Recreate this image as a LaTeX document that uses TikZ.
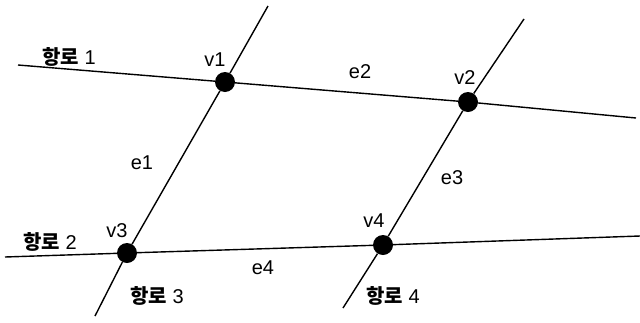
\documentclass[tikz,border=0pt]{standalone}
\usepackage{fontspec}
\setmainfont{Liberation Sans}
\newfontfamily\kr{Noto Sans CJK KR}
\usepackage{tikz}
\usetikzlibrary{positioning, calc}

\begin{document}
\begin{tikzpicture}[
          x=1pt, y=-1pt,
          route/.style={line width=1.4pt, black},
          vertex/.style={circle, fill=black, minimum size=20pt, inner sep=0pt},
          lbl/.style={font=\fontsize{20}{24}\selectfont, inner sep=1pt}
        ]
          \useasboundingbox (0,0) rectangle (640,322);

          % intersections
          \node[vertex] (v1) at (225,82) {};
          \node[vertex] (v2) at (468,102) {};
          \node[vertex] (v3) at (127,253) {};
          \node[vertex] (v4) at (383,245) {};

          % line ends
          \coordinate (r1a) at (18,65);
          \coordinate (r1b) at (636,118);
          \coordinate (r2a) at (5,257);
          \coordinate (r2b) at (640,236);
          \coordinate (r3a) at (95,316);
          \coordinate (r3b) at (268,6);
          \coordinate (r4a) at (343,308);
          \coordinate (r4b) at (524,19);

          \draw[route] (r1a) -- (v1) -- (v2) -- (r1b);
          \draw[route] (r2a) -- (v3) -- (v4) -- (r2b);
          \draw[route] (r3a) -- (v3) -- (v1) -- (r3b);
          \draw[route] (r4a) -- (v4) -- (v2) -- (r4b);

          % labels
          \node[lbl] (t1) at (69,57) {{\kr\bfseries 항로}~1};
          \node[lbl] (t2) at (50,242) {{\kr\bfseries 항로}~2};
          \node[lbl] (t3) at (157,296) {{\kr\bfseries 항로}~3};
          \node[lbl] (t4) at (393,296) {{\kr\bfseries 항로}~4};

          \node[lbl] (n1) at (215,60) {v1};
          \node[lbl] (n2) at (465,78) {v2};
          \node[lbl] (n3) at (117,231) {v3};
          \node[lbl] (n4) at (374,221) {v4};

          \node[lbl] (e1) at (142,163) {e1};
          \node[lbl] (e2) at (360,72) {e2};
          \node[lbl] (e3) at (452,178) {e3};
          \node[lbl] (e4) at (263,268) {e4};
        \end{tikzpicture}
\end{document}
